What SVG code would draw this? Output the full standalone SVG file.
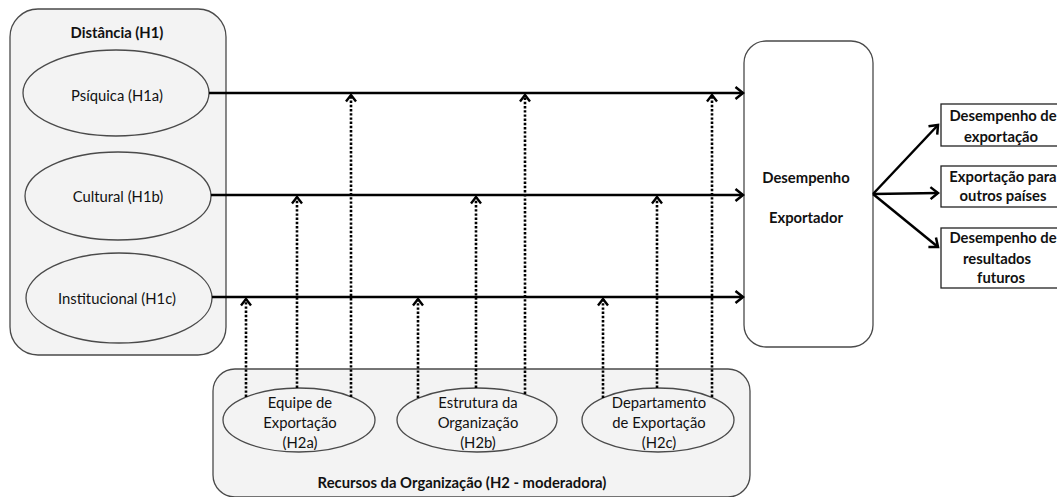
<svg xmlns="http://www.w3.org/2000/svg" width="1057" height="497" viewBox="0 0 1057 497">
<style>
.cont{fill:#f3f3f3;stroke:#4a4a4a;stroke-width:1.3}
.ell{fill:#f3f3f3;stroke:#4a4a4a;stroke-width:1.3}
.box{fill:#ffffff;stroke:#4a4a4a;stroke-width:1.3}
.rbox{fill:#ffffff;stroke:#222;stroke-width:1.3}
.t{font-family:Lato,"Liberation Sans",sans-serif;font-size:14.8px;fill:#111;text-anchor:middle}
.b{font-family:Lato,"Liberation Sans",sans-serif;font-size:14.8px;font-weight:bold;fill:#111;text-anchor:middle}
.sol{stroke:#000;stroke-width:2.5;fill:none;marker-end:url(#ah)}
.dot{stroke:#000;stroke-width:2.6;fill:none;stroke-dasharray:2.4 1.8;marker-end:url(#dh)}
</style>
<defs>
<marker id="ah" markerUnits="userSpaceOnUse" markerWidth="16" markerHeight="16" refX="12" refY="8" orient="auto">
<path d="M4.5,2 L12,8 L4.5,14" fill="none" stroke="#000" stroke-width="2.5"/>
</marker>
<marker id="dh" markerUnits="userSpaceOnUse" markerWidth="14" markerHeight="14" refX="10" refY="7" orient="auto">
<path d="M3.5,2 L10,7 L3.5,12" fill="none" stroke="#000" stroke-width="2.4"/>
</marker>
</defs>

<g id="distancia">
<rect class="cont" x="10" y="9" width="216" height="346" rx="28"/>
<text class="b" x="117" y="38">Distância (H1)</text>
</g>
<g id="psiquica">
<ellipse class="ell" cx="116" cy="93" rx="93" ry="43"/>
<text class="t" x="117" y="101">Psíquica (H1a)</text>
</g>
<g id="cultural">
<ellipse class="ell" cx="118" cy="196" rx="93" ry="44"/>
<text class="t" x="118" y="202">Cultural (H1b)</text>
</g>
<g id="institucional">
<ellipse class="ell" cx="119" cy="298" rx="93" ry="45"/>
<text class="t" x="117" y="304">Institucional (H1c)</text>
</g>

<g id="recursos">
<rect class="cont" x="213" y="369" width="537" height="128" rx="22"/>
<text class="b" x="462" y="488">Recursos da Organização (H2 - moderadora)</text>
</g>
<g id="equipe">
<ellipse class="ell" cx="299" cy="420" rx="76" ry="32"/>
<text class="t" x="300" y="408">Equipe de</text>
<text class="t" x="300" y="428">Exportação</text>
<text class="t" x="300" y="448">(H2a)</text>
</g>
<g id="estrutura">
<ellipse class="ell" cx="477" cy="420" rx="80" ry="32"/>
<text class="t" x="478" y="408">Estrutura da</text>
<text class="t" x="478" y="428">Organização</text>
<text class="t" x="478" y="448">(H2b)</text>
</g>
<g id="departamento">
<ellipse class="ell" cx="658" cy="420" rx="76" ry="32"/>
<text class="t" x="659" y="408">Departamento</text>
<text class="t" x="659" y="428">de Exportação</text>
<text class="t" x="659" y="448">(H2c)</text>
</g>

<g id="desempenho">
<rect class="box" x="744" y="41" width="129" height="306" rx="22"/>
<text class="b" x="806" y="183">Desempenho</text>
<text class="b" x="806" y="223">Exportador</text>
</g>

<g id="out1">
<rect class="rbox" x="941" y="104" width="120" height="42"/>
<text class="b" x="1003" y="121">Desempenho de</text>
<text class="b" x="1001" y="142">exportação</text>
</g>
<g id="out2">
<rect class="rbox" x="941" y="166" width="120" height="41"/>
<text class="b" x="1003" y="182">Exportação para</text>
<text class="b" x="1003" y="201">outros países</text>
</g>
<g id="out3">
<rect class="rbox" x="941" y="228" width="120" height="60"/>
<text class="b" x="1003" y="243">Desempenho de</text>
<text class="b" x="997" y="264">resultados</text>
<text class="b" x="1001" y="283">futuros</text>
</g>

<g id="connectors">
<path class="sol" d="M209,93 L743,93"/>
<path class="sol" d="M211,195 L743,195"/>
<path class="sol" d="M212,297 L743,297"/>
<path class="sol" d="M873,194 L938,125"/>
<path class="sol" d="M873,194 L938,193"/>
<path class="sol" d="M873,194 L938,247"/>
<path class="dot" d="M246,397 L246,299"/>
<path class="dot" d="M297,388 L297,197"/>
<path class="dot" d="M351,397 L351,95"/>
<path class="dot" d="M418,398 L418,299"/>
<path class="dot" d="M476,388 L476,197"/>
<path class="dot" d="M525,394 L525,95"/>
<path class="dot" d="M603,398 L603,299"/>
<path class="dot" d="M657,388 L657,197"/>
<path class="dot" d="M712,397 L712,95"/>
</g>
</svg>
